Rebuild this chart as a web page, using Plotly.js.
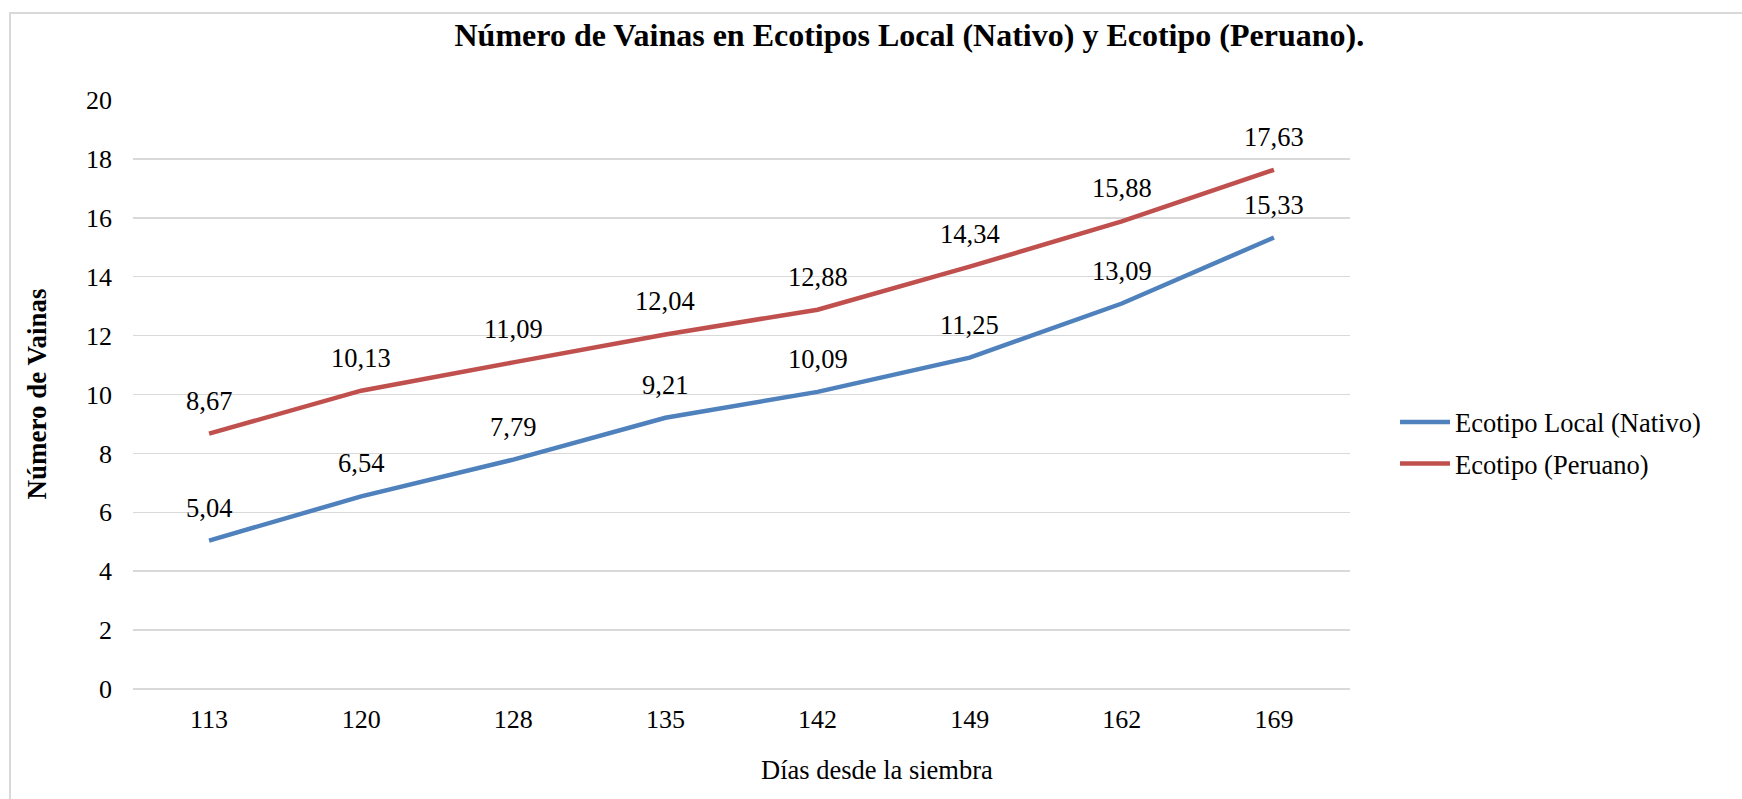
<!DOCTYPE html>
<html>
<head>
<meta charset="utf-8">
<script src="https://cdn.plot.ly/plotly-3.0.1.min.js"></script>
<style>
  html, body { margin: 0; padding: 0; background: #ffffff; }
  #wrap { position: relative; width: 1742px; height: 799px; overflow: hidden; }
  #frame { position: absolute; left: 9px; top: 12px; width: 1760px; height: 820px;
           border-left: 2px solid #d9d9d9; border-top: 2px solid #d9d9d9; box-sizing: border-box; pointer-events: none; }
  #chart { position: absolute; left: 0; top: 0; width: 1742px; height: 799px; }
</style>
</head>
<body>
<div id="wrap">
  <div id="chart"></div>
  <div id="frame"></div>
</div>
<script>
// ---- data ----
const dias = ["113", "120", "128", "135", "142", "149", "162", "169"];
const nativo = [5.04, 6.54, 7.79, 9.21, 10.09, 11.25, 13.09, 15.33];
const peruano = [8.67, 10.13, 11.09, 12.04, 12.88, 14.34, 15.88, 17.63];
const serieNativo = "Ecotipo Local (Nativo)";
const seriePeruano = "Ecotipo (Peruano)";
const titulo = "Número de Vainas en Ecotipos Local (Nativo) y Ecotipo (Peruano).";
const tituloX = "Días desde la siembra";
const tituloY = "Número de Vainas";

const FONT = "Liberation Serif";
const AZUL = "#4F81BD";
const ROJO = "#C0504D";

function fmt(v) { return v.toFixed(2).replace(".", ","); }

const traces = [
  { x: dias, y: nativo, name: serieNativo, type: "scatter", mode: "lines", legendgroup: "a",
    line: { color: AZUL, width: 4.5 }, hoverinfo: "skip" },
  { x: dias, y: peruano, name: seriePeruano, type: "scatter", mode: "lines", legendgroup: "b",
    line: { color: ROJO, width: 4.5 }, hoverinfo: "skip" }
];

const annotations = [];
[nativo, peruano].forEach(serie => {
  serie.forEach((v, i) => {
    annotations.push({ x: i, y: v, xref: "x", yref: "y", text: fmt(v),
      showarrow: false, yshift: 33, xanchor: "center", yanchor: "middle",
      font: { family: FONT, size: 26.5, color: "#000" } });
  });
});
annotations.push({ xref: "paper", yref: "paper", x: 0.611, y: -0.1375, text: tituloX,
  showarrow: false, xanchor: "center", yanchor: "middle",
  font: { family: FONT, size: 26.5, color: "#000" } });
annotations.push({ xref: "paper", yref: "paper", x: -0.0797, y: 0.5, text: "<b>" + tituloY + "</b>",
  showarrow: false, xanchor: "center", yanchor: "middle", textangle: -90,
  font: { family: FONT, size: 27, color: "#000" } });

const layout = {
  width: 1742, height: 799,
  paper_bgcolor: "rgba(0,0,0,0)", plot_bgcolor: "#ffffff",
  margin: { l: 133, r: 392, t: 100, b: 110 },
  font: { family: FONT, size: 26, color: "#000" },
  title: { text: "<b>" + titulo + "</b>", xref: "container", x: 0.522, xanchor: "center",
           yref: "container", y: 0.956, yanchor: "middle",
           font: { family: FONT, size: 32, color: "#000" } },
  xaxis: { type: "category", categoryarray: dias, categoryorder: "array", range: [-0.5, dias.length - 0.5],
           autorange: false, showgrid: false, zeroline: false, showline: false, tickangle: 0,
           ticks: "", ticklabelstandoff: 12, tickfont: { family: FONT, size: 26, color: "#000" } },
  yaxis: { range: [0, 20], autorange: false, dtick: 2, tick0: 0, showgrid: true, gridcolor: "#d9d9d9", gridwidth: 1.5,
           zeroline: true, zerolinecolor: "#d9d9d9", zerolinewidth: 1.5, showline: false,
           ticks: "", ticklabelstandoff: 20, tickfont: { family: FONT, size: 26, color: "#000" } },
  showlegend: true,
  legend: { x: 1.037, xanchor: "left", y: 0.418, yanchor: "middle", bgcolor: "rgba(0,0,0,0)",
            font: { family: FONT, size: 26.5, color: "#000" }, itemwidth: 50, tracegroupgap: 4,
            traceorder: "grouped" },
  annotations: annotations
};

Plotly.newPlot("chart", traces, layout, { displayModeBar: false, staticPlot: true });
</script>
</body>
</html>
